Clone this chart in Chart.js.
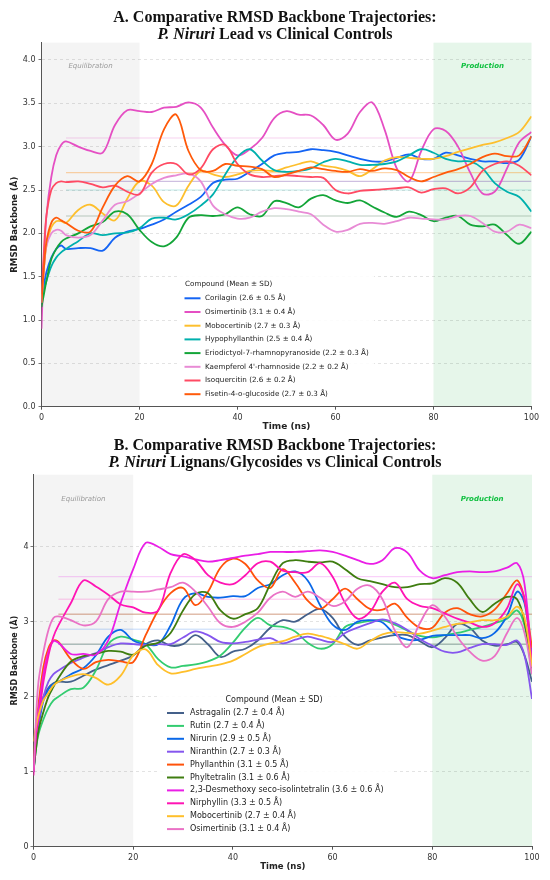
<!DOCTYPE html>
<html>
<head>
<meta charset="utf-8">
<script src="https://cdn.jsdelivr.net/npm/chart.js@4.4.1/dist/chart.umd.min.js"></script>
<style>
  body { margin: 0; background: #fff; }
  #page { position: relative; width: 550px; height: 880px; overflow: hidden; }
  .panel { position: absolute; left: 0; width: 550px; height: 440px; }
  .title {
    position: absolute; left: 0; width: 550px; text-align: center;
    font: bold 16px "Liberation Serif", "Times New Roman", serif;
    line-height: 16.5px; color: #111;
  }
</style>
</head>
<body>
<div id="page">
  <div class="panel" style="top:0"><canvas id="chartA" width="550" height="440"></canvas></div>
  <div class="panel" style="top:440px"><canvas id="chartB" width="550" height="440"></canvas></div>
  <div class="title" style="top:9px">A. Comparative RMSD Backbone Trajectories:<br><i>P. Niruri</i> Lead vs Clinical Controls</div>
  <div class="title" style="top:437px">B. Comparative RMSD Backbone Trajectories:<br><i>P. Niruri</i> Lignans/Glycosides vs Clinical Controls</div>
</div>
<script>
// ── Panel A data ─────────────────────────────────────────────────────────────
const timeA = [0,0.5,1,2,3,4,5,7.5,10,12.5,15,17.5,20,22.5,25,27.5,30,32.5,35,37.5,40,42.5,45,47.5,50,52.5,55,57.5,60,62.5,65,67.5,70,72.5,75,77.5,80,82.5,85,87.5,90,92.5,95,97.5,100];

const namesA = ["Corilagin","Osimertinib","Mobocertinib","Hypophyllanthin","Eriodictyol-7-rhamnopyranoside","Kaempferol 4'-rhamnoside","Isoquercitin","Fisetin-4-o-glucoside"];
const meanA = [2.6,3.1,2.7,2.5,2.2,2.2,2.6,2.7];
const sdA   = [0.5,0.4,0.3,0.4,0.3,0.2,0.2,0.3];
const colorsA = ["#1464f4","#e54fc3","#fdbf2d","#00b0ad","#13a538","#e88bd5","#ff4a63","#ff5a0a"];

const corilagin   = [1.2,1.4,1.55,1.72,1.82,1.86,1.82,1.83,1.83,1.8,1.95,2.02,2.05,2.1,2.16,2.25,2.33,2.42,2.58,2.62,2.63,2.71,2.8,2.9,2.93,2.94,2.97,2.96,2.94,2.9,2.86,2.83,2.83,2.87,2.91,2.86,2.86,2.93,2.9,2.86,2.83,2.83,2.81,2.85,3.12];
const osimertinibA = [0.9,1.7,2.2,2.65,2.9,3.02,3.06,3.0,2.95,2.93,3.25,3.42,3.41,3.4,3.45,3.46,3.51,3.45,3.22,3.02,2.9,2.97,3.1,3.33,3.41,3.37,3.36,3.25,3.08,3.15,3.4,3.51,3.2,2.75,2.6,2.95,3.2,3.18,3.0,2.7,2.46,2.48,2.75,3.05,3.17];
const mobocertinibA = [1.25,1.6,1.85,2.07,2.14,2.14,2.12,2.27,2.33,2.23,2.15,2.4,2.6,2.55,2.36,2.32,2.55,2.72,2.68,2.65,2.68,2.72,2.73,2.72,2.76,2.8,2.83,2.78,2.76,2.72,2.66,2.74,2.84,2.88,2.87,2.86,2.86,2.89,2.94,2.98,3.02,3.05,3.1,3.17,3.35];
const hypophyllanthin = [1.2,1.35,1.45,1.62,1.72,1.78,1.82,1.91,2.0,1.98,2.0,2.01,2.06,2.17,2.18,2.16,2.22,2.32,2.45,2.68,2.88,2.97,2.84,2.73,2.71,2.72,2.75,2.82,2.86,2.83,2.79,2.79,2.8,2.83,2.9,2.97,2.93,2.86,2.83,2.83,2.75,2.58,2.48,2.42,2.25];
const eriodictyol = [1.15,1.3,1.45,1.7,1.82,1.9,1.94,2.0,2.08,2.13,2.25,2.22,2.04,1.9,1.85,1.95,2.18,2.21,2.2,2.22,2.3,2.22,2.2,2.37,2.35,2.3,2.4,2.44,2.38,2.35,2.38,2.31,2.24,2.19,2.25,2.21,2.14,2.18,2.2,2.1,2.08,2.1,1.98,1.88,2.02];
const kaempferol  = [1.2,1.6,1.85,2.0,2.04,2.03,1.98,1.95,1.98,2.15,2.33,2.37,2.46,2.57,2.64,2.67,2.69,2.6,2.32,2.22,2.17,2.18,2.25,2.29,2.28,2.25,2.22,2.1,2.02,2.04,2.11,2.12,2.11,2.14,2.18,2.17,2.16,2.16,2.2,2.2,2.12,2.02,2.02,2.1,2.06];
const isoquercitin = [1.3,1.8,2.2,2.5,2.58,2.6,2.59,2.6,2.57,2.53,2.55,2.48,2.45,2.7,2.8,2.8,2.68,2.75,2.97,3.02,2.8,2.68,2.65,2.66,2.67,2.66,2.65,2.64,2.5,2.46,2.49,2.5,2.51,2.52,2.53,2.47,2.51,2.52,2.46,2.53,2.72,2.8,2.83,2.78,2.67];
const fisetin     = [1.2,1.6,1.9,2.12,2.18,2.15,2.12,2.03,2.02,2.3,2.55,2.66,2.6,2.8,3.2,3.37,2.95,2.73,2.72,2.8,2.78,2.77,2.74,2.65,2.68,2.72,2.76,2.74,2.72,2.71,2.74,2.72,2.75,2.73,2.65,2.6,2.65,2.7,2.74,2.8,2.88,2.92,2.89,2.9,3.12];

// ── Panel B data ─────────────────────────────────────────────────────────────
const timeB = [0,0.5,1,2,3,4,5,7.5,10,12.5,15,17.5,20,22.5,25,27.5,30,32.5,35,37.5,40,42.5,45,47.5,50,52.5,55,57.5,60,62.5,65,67.5,70,72.5,75,77.5,80,82.5,85,87.5,90,92.5,95,97,98.5,100];

const namesB = ["Astragalin","Rutin","Nirurin","Niranthin","Phyllanthin","Phyltetralin","2,3-Desmethoxy seco-isolintetralin","Nirphyllin","Mobocertinib","Osimertinib"];
const meanB = [2.7,2.7,2.9,2.7,3.1,3.1,3.6,3.3,2.7,3.1];
const sdB   = [0.4,0.4,0.5,0.3,0.5,0.6,0.6,0.5,0.4,0.4];
const colorsB = ["#44608a","#33cc70","#0a68e8","#8556ee","#ff520a","#3f7d10","#ea1ee6","#ff14b4","#ffbf2a","#ea72c6"];

const astragalin  = [1.0,1.45,1.7,2.0,2.12,2.18,2.2,2.2,2.28,2.36,2.42,2.48,2.55,2.7,2.75,2.68,2.7,2.82,2.7,2.53,2.6,2.64,2.75,2.92,3.02,3.0,3.1,3.17,3.05,2.8,2.69,2.75,2.79,2.82,2.82,2.74,2.66,2.78,2.97,2.92,2.75,2.68,2.7,2.73,2.55,2.2];
const rutin       = [1.0,1.3,1.5,1.7,1.85,1.95,2.0,2.1,2.12,2.35,2.7,2.8,2.76,2.7,2.5,2.39,2.41,2.43,2.47,2.55,2.72,2.92,3.05,2.95,2.93,2.87,2.72,2.64,2.7,2.93,2.98,3.01,3.02,2.96,2.88,2.81,2.79,2.82,2.85,2.89,2.93,2.98,3.04,3.15,2.95,2.4];
const nirurin     = [1.0,1.35,1.6,1.95,2.1,2.17,2.2,2.3,2.38,2.55,2.8,2.89,2.75,2.7,2.7,2.95,3.3,3.38,3.33,3.32,3.34,3.34,3.45,3.5,3.62,3.67,3.55,3.22,2.96,2.89,3.0,3.02,2.99,2.83,2.76,2.76,2.81,2.82,2.82,2.82,2.78,2.85,3.08,3.4,3.25,2.55];
const niranthin   = [1.0,1.4,1.65,2.0,2.2,2.3,2.35,2.45,2.52,2.58,2.66,2.71,2.7,2.69,2.7,2.7,2.79,2.87,2.82,2.73,2.71,2.73,2.76,2.78,2.71,2.76,2.8,2.76,2.73,2.85,2.92,2.98,3.03,2.98,2.89,2.77,2.68,2.6,2.59,2.65,2.7,2.7,2.69,2.75,2.55,1.97];
const phyllanthin = [1.1,1.6,1.9,2.4,2.65,2.75,2.73,2.5,2.37,2.46,2.49,2.47,2.46,2.82,3.15,3.38,3.45,3.22,3.4,3.72,3.84,3.77,3.55,3.45,3.7,3.52,3.28,3.17,3.3,3.44,3.3,3.17,3.16,3.24,3.05,2.92,2.92,3.12,3.18,3.1,3.07,3.16,3.38,3.55,3.3,2.65];
const phyltetralin = [1.0,1.3,1.55,1.8,2.0,2.13,2.25,2.47,2.54,2.57,2.61,2.6,2.56,2.68,2.72,2.85,3.15,3.37,3.38,3.15,3.04,3.1,3.18,3.5,3.78,3.82,3.8,3.79,3.8,3.7,3.58,3.54,3.5,3.46,3.46,3.5,3.51,3.58,3.52,3.3,3.13,3.24,3.33,3.3,3.0,2.3];
const desmethoxy  = [1.0,1.5,1.8,2.3,2.6,2.74,2.72,2.57,2.57,2.56,2.75,3.25,3.7,4.05,4.0,3.9,3.87,3.83,3.8,3.82,3.85,3.88,3.9,3.93,3.93,3.93,3.94,3.95,3.93,3.88,3.82,3.77,3.82,3.98,3.92,3.68,3.58,3.62,3.66,3.67,3.66,3.67,3.72,3.78,3.5,2.4];
const nirphyllin  = [0.95,1.5,1.7,2.2,2.55,2.8,2.95,3.25,3.55,3.47,3.36,3.23,3.19,3.12,3.15,3.65,3.9,3.82,3.62,3.52,3.5,3.62,3.78,3.8,3.68,3.66,3.66,3.78,3.6,3.25,3.04,3.13,3.4,3.52,3.3,3.21,3.18,3.11,3.04,2.99,2.93,2.98,3.18,3.5,3.3,2.45];
const mobocertinibB = [1.4,1.6,1.75,1.95,2.05,2.15,2.2,2.27,2.3,2.25,2.16,2.28,2.55,2.63,2.42,2.31,2.33,2.37,2.4,2.43,2.48,2.57,2.66,2.71,2.74,2.8,2.84,2.81,2.76,2.7,2.64,2.74,2.83,2.86,2.85,2.84,2.88,2.93,2.97,2.99,3.02,3.02,3.07,3.2,3.05,2.4];
const osimertinibB = [1.0,1.7,2.2,2.6,2.89,3.05,3.07,3.02,2.95,3.0,3.3,3.4,3.4,3.4,3.43,3.46,3.52,3.4,3.2,2.98,2.93,3.0,3.12,3.32,3.4,3.33,3.4,3.32,3.21,3.27,3.44,3.48,3.3,2.88,2.66,2.98,3.22,3.07,2.8,2.6,2.48,2.54,2.85,3.05,2.85,2.3];

const seriesA = [corilagin, osimertinibA, mobocertinibA, hypophyllanthin, eriodictyol, kaempferol, isoquercitin, fisetin];
const seriesB = [astragalin, rutin, nirurin, niranthin, phyllanthin, phyltetralin, desmethoxy, nirphyllin, mobocertinibB, osimertinibB];

// ── Chart.js defaults ────────────────────────────────────────────────────────
const FONT = "'DejaVu Sans', sans-serif";
Chart.defaults.font.family = FONT;
Chart.defaults.color = "#333";

// shaded phases, phase labels and the in-plot legend
const phasePlugin = {
  id: "phases",
  beforeDraw(chart, args, o) {
    const { ctx, chartArea: a, scales: { x } } = chart;
    ctx.save();
    ctx.fillStyle = "#f4f4f4";
    ctx.fillRect(x.getPixelForValue(0), a.top, x.getPixelForValue(20) - x.getPixelForValue(0), a.bottom - a.top);
    ctx.fillStyle = "#e6f6ea";
    ctx.fillRect(x.getPixelForValue(80), a.top, x.getPixelForValue(100) - x.getPixelForValue(80), a.bottom - a.top);
    ctx.restore();
  },
  afterDraw(chart, args, o) {
    const { ctx, chartArea: a, scales: { x } } = chart;
    const ly = a.bottom - 0.935 * (a.bottom - a.top);
    ctx.save();
    ctx.textAlign = "center";
    ctx.textBaseline = "middle";
    ctx.font = `italic 7px ${FONT}`;
    ctx.fillStyle = "#9a9a9a";
    ctx.fillText("Equilibration", x.getPixelForValue(10), ly);
    ctx.font = `italic bold 7px ${FONT}`;
    ctx.fillStyle = "#10c040";
    ctx.fillText("Production", x.getPixelForValue(90), ly);

    // legend
    const L = o.legend;
    ctx.fillStyle = "rgba(255,255,255,0.88)";
    ctx.fillRect(L.x, L.y, L.w, L.h);
    ctx.font = `${L.size}px ${FONT}`;
    ctx.fillStyle = "#222";
    ctx.textAlign = L.titleAlign;
    ctx.fillText("Compound (Mean ± SD)", L.titleX, L.titleY);
    ctx.textAlign = "left";
    L.names.forEach((n, i) => {
      const yy = L.itemY + i * L.gap;
      ctx.strokeStyle = L.colors[i];
      ctx.lineWidth = 2;
      ctx.beginPath();
      ctx.moveTo(L.lineX0, yy);
      ctx.lineTo(L.lineX1, yy);
      ctx.stroke();
      ctx.fillStyle = "#222";
      ctx.fillText(`${n} (${L.means[i].toFixed(1)} ± ${L.sds[i].toFixed(1)} Å)`, L.textX, yy);
    });
    ctx.restore();
  }
};

function makePanel(id, p) {
  const datasets = [];
  p.series.forEach((vals, i) => {
    datasets.push({
      data: p.time.map((t, k) => ({ x: t, y: vals[k] })),
      borderColor: p.colors[i],
      borderWidth: 1.8,
      pointRadius: 0,
      tension: 0.35,
      order: p.series.length - i
    });
    datasets.push({
      data: [{ x: 5, y: p.means[i] }, { x: 100, y: p.means[i] }],
      borderColor: p.colors[i] + "40",
      borderWidth: 1,
      pointRadius: 0,
      order: 100
    });
  });

  const step = p.yStep;
  return new Chart(document.getElementById(id), {
    type: "line",
    data: { datasets },
    plugins: [phasePlugin],
    options: {
      responsive: false,
      animation: false,
      layout: { padding: { top: p.top, right: p.right, left: 0, bottom: 0 } },
      plugins: {
        legend: { display: false },
        tooltip: { enabled: false },
        phases: { legend: p.legend }
      },
      scales: {
        x: {
          type: "linear", min: 0, max: 100,
          ticks: { stepSize: 20, font: { size: 8 }, color: "#333", padding: 3, maxRotation: 0 },
          grid: { drawOnChartArea: false, drawTicks: true, tickLength: 3, tickColor: "#555" },
          border: { color: "#555", width: 1 },
          title: { display: true, text: "Time (ns)", font: { size: p.xTitleSize, weight: "bold" }, color: "#222", padding: { top: 0, bottom: 8 } },
          afterFit: s => { s.height = p.xAxisH; s.paddingLeft = 0; s.paddingRight = 0; }
        },
        y: {
          type: "linear", min: 0, max: p.yMax,
          ticks: { stepSize: step, font: { size: 8 }, color: "#333", padding: p.yTickPad, callback: v => p.yFmt(v) },
          afterBuildTicks: s => { s.ticks = s.ticks.filter(t => Math.abs(t.value / step - Math.round(t.value / step)) < 1e-6); },
          grid: { color: "rgba(0,0,0,0.14)", lineWidth: 0.8, tickColor: "#555", tickLength: 3, tickBorderDash: [] },
          border: { color: "#555", width: 1, dash: [3, 3] },
          title: { display: true, text: "RMSD Backbone (Å)", font: { size: p.yTitleSize, weight: "bold" }, color: "#222", padding: { top: 10, bottom: 0 } },
          afterFit: s => { s.width = p.yAxisW; }
        }
      }
    }
  });
}

makePanel("chartA", {
  time: timeA, series: seriesA, colors: colorsA, means: meanA,
  top: 42.65, right: 18.5, yAxisW: 41.5, xAxisH: 33.3,
  yMax: 4.2, yStep: 0.5, yFmt: v => v.toFixed(1), yTickPad: 3,
  xTitleSize: 9, yTitleSize: 8.6,
  legend: {
    x: 177, y: 276, w: 197, h: 126, size: 7.2,
    titleX: 185, titleY: 284, titleAlign: "left",
    lineX0: 184.5, lineX1: 200.5, textX: 205, itemY: 298.3, gap: 13.7,
    names: namesA, colors: colorsA, means: meanA, sds: sdA
  }
});

makePanel("chartB", {
  time: timeB, series: seriesB, colors: colorsB, means: meanB,
  top: 34.7, right: 18, yAxisW: 33.5, xAxisH: 33.3,
  yMax: 4.96, yStep: 1, yFmt: v => String(Math.round(v)), yTickPad: 2,
  xTitleSize: 8.5, yTitleSize: 8,
  legend: {
    x: 160, y: 252, w: 234, h: 145, size: 8,
    titleX: 274, titleY: 260, titleAlign: "center",
    lineX0: 167, lineX1: 184, textX: 190, itemY: 273, gap: 12.9,
    names: namesB, colors: colorsB, means: meanB, sds: sdB
  }
});
</script>
</body>
</html>
